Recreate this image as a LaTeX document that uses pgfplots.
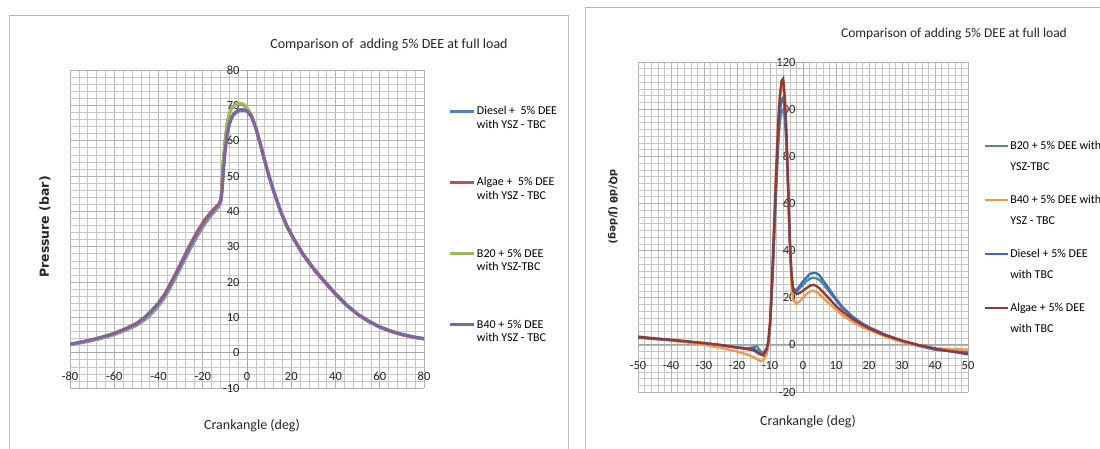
\documentclass[border=0pt]{standalone}
\usepackage{fontspec}
\setmainfont{Carlito}
\newfontfamily\dvb{DejaVu Sans Bold}
\usepackage{pgfplots}
\usepackage{pgfplotstable}
\pgfplotsset{compat=1.18}

\definecolor{pBlue}{HTML}{4F81BD}
\definecolor{pRed}{HTML}{C0504D}
\definecolor{pGreen}{HTML}{9BBB59}
\definecolor{pPurple}{HTML}{8064A2}
\definecolor{qTeal}{HTML}{4A8C9C}
\definecolor{qOrange}{HTML}{F79646}
\definecolor{qBlue}{HTML}{3C6EB4}
\definecolor{qRed}{HTML}{953735}

% ---------- Pressure data ----------
\pgfplotstableread{
x y
-80 2.2
-75 2.8
-70 3.4
-65 4.2
-60 5.1
-55 6.3
-50 7.7
-46 9.4
-43 11.1
-40 13.2
-37 15.8
-34 19.2
-30 24.0
-26 29.0
-22 33.5
-19 36.5
-16 39.0
-14 40.4
-12.5 41.6
-11.8 42.8
-11.2 46
-10.6 52
-10 56.5
-9 61.5
-8 64.5
-7 66.3
-6 67.3
-5 67.9
-4 68.3
-3 68.5
-2 68.6
-1 68.6
0 68.3
2 66.8
4 63.5
6 59.1
8 54.3
10 49.8
12 45.8
15 40.3
18 35.8
21 32.3
25 28.1
30 23.8
35 20.1
40 16.6
45 13.5
50 10.9
55 8.9
60 7.3
65 6.1
70 5.1
75 4.4
80 3.9
}\pDiesel

\pgfplotstableread{
x y
-80 2.4
-75 3.0
-70 3.7
-65 4.5
-60 5.5
-55 6.8
-50 8.3
-46 10.2
-43 12.0
-40 14.1
-37 16.8
-34 20.3
-30 25.2
-26 30.3
-22 34.8
-19 37.7
-16 40.0
-14 41.3
-12.5 42.3
-11.8 43.5
-11.3 48
-10.8 54
-10 59.5
-9 64.8
-8 67.7
-7 69.1
-6 69.8
-5 70.2
-3 70.4
-2 70.2
-1 69.8
0 69.1
2 67.1
4 63.5
6 59.0
8 54.2
10 49.7
12 45.7
15 40.2
18 35.7
21 32.2
25 28.0
30 23.7
35 20.0
40 16.5
45 13.4
50 10.8
55 8.8
60 7.2
65 6.0
70 5.1
75 4.4
80 3.9
}\pAlgae

\pgfplotstableread{
x y
-80 2.3
-75 2.9
-70 3.5
-65 4.3
-60 5.2
-55 6.4
-50 7.8
-46 9.6
-43 11.3
-40 13.4
-37 16.0
-34 19.5
-30 24.3
-26 29.3
-22 33.8
-19 36.8
-16 39.2
-14 40.6
-12.5 41.8
-11.8 43.0
-11.3 47
-10.8 53
-10 59
-9 64.5
-8 67.5
-7 69.0
-6 69.8
-5 70.3
-3 70.6
-2 70.4
-1 70.0
0 69.3
2 67.3
4 63.8
6 59.3
8 54.5
10 50.0
12 46.0
15 40.5
18 36.0
21 32.5
25 28.3
30 24.0
35 20.3
40 16.8
45 13.6
50 11.0
55 9.0
60 7.4
65 6.2
70 5.2
75 4.5
80 4.0
}\pBtwenty

\pgfplotstableread{
x y
-80 2.4
-75 3.0
-70 3.7
-65 4.5
-60 5.4
-55 6.7
-50 8.1
-46 10.0
-43 11.8
-40 13.9
-37 16.5
-34 20.0
-30 24.8
-26 29.8
-22 34.3
-19 37.3
-16 39.7
-14 41.0
-12.5 42.1
-11.8 43.2
-11.2 46.5
-10.6 52
-10 56.5
-9 61.8
-8 64.8
-7 66.6
-6 67.6
-5 68.2
-4 68.6
-3 68.8
-2 68.8
-1 68.7
0 68.4
2 67.0
4 63.6
6 59.2
8 54.4
10 49.9
12 45.9
15 40.4
18 35.9
21 32.4
25 28.2
30 23.9
35 20.2
40 16.7
45 13.5
50 10.9
55 8.9
60 7.3
65 6.1
70 5.2
75 4.5
80 4.0
}\pBforty

% ---------- Heat release data ----------
\pgfplotstableread{
x y
-50 3.2
-45 2.6
-40 2.0
-35 1.3
-30 0.6
-25 -0.2
-20 -1.2
-17 -1.5
-15 -1.0
-14 -0.5
-13 -2.5
-12 -3.5
-11 -1.5
-10.5 1.5
-10 8
-9.5 21
-9 37
-8.5 54
-8 70
-7.5 85
-7 95
-6.5 99
-6 100
-5.5 96
-5 84
-4.5 65
-4 44
-3.5 30
-3 24
-2 22.5
-1 24
0 25.5
1 27
2 28
3 28.5
4 28.2
5 27.5
6 26
8 22.5
10 19
12 15.5
15 11.8
18 8.8
20 7.3
25 4.2
30 1.6
35 -0.4
40 -2.0
45 -2.6
50 -3.0
}\qBtwenty

\pgfplotstableread{
x y
-50 3.5
-45 2.5
-40 1.8
-35 1.0
-30 0.0
-25 -1.2
-20 -2.8
-17 -4.0
-15 -5.2
-13 -6.8
-12 -6.5
-11 -4.0
-10.5 0
-10 8
-9.5 24
-9 42
-8.5 62
-8 80
-7.5 96
-7 105
-6.5 109
-6 110
-5.5 104
-5 88
-4.5 65
-4 42
-3.5 26
-3 19
-2 17.5
-1 18.5
0 20
1 21.5
2 22.5
3 23
4 22.5
5 21.5
6 20
8 17.5
10 15
12 12.5
15 9.8
18 7.5
20 6.3
25 3.5
30 1.2
35 -0.5
40 -1.5
45 -1.8
50 -2.0
}\qBforty

\pgfplotstableread{
x y
-50 3.0
-45 2.5
-40 2.0
-35 1.4
-30 0.7
-25 -0.1
-20 -1.0
-17 -1.4
-15 -1.5
-13 -3.5
-12 -4.0
-11 -1.5
-10.5 1
-10 7
-9.5 20
-9 36
-8.5 54
-8 72
-7.5 88
-7 99
-6.5 104
-6 105
-5.5 100
-5 86
-4.5 66
-4 44
-3.5 30
-3 24
-2 23
-1 25
0 27
1 28.5
2 30
3 30.5
4 30.5
5 29.5
6 27.5
8 23.5
10 19.5
12 16
15 12
18 9
20 7.5
25 4.3
30 1.8
35 -0.3
40 -2.0
45 -2.8
50 -3.5
}\qDiesel

\pgfplotstableread{
x y
-50 3.5
-45 2.8
-40 2.2
-35 1.5
-30 0.8
-25 0.0
-20 -1.2
-17 -1.8
-15 -2.3
-13 -4.0
-12 -4.5
-11 -2.0
-10.5 2
-10 10
-9.5 25
-9 42
-8.5 60
-8 78
-7.5 95
-7 106
-6.5 112
-6 113
-5.5 105
-5 90
-4.5 68
-4 45
-3.5 30
-3 23
-2 21.5
-1 22
0 23
1 24
2 25
3 25.5
4 25
5 24
6 22.5
8 19.5
10 16.5
12 14
15 11
18 8.5
20 7
25 4
30 1.8
35 0.0
40 -1.5
45 -2.8
50 -4.0
}\qAlgae

\pgfplotsset{
  excelgrid/.style={
    scale only axis,
    axis lines=middle,
    axis line style={gray!70, line width=0.8pt, -},
    grid=both,
    major grid style={gray!60, line width=0.6pt},
    minor grid style={gray!45, line width=0.5pt},
    tick style={gray!70, line width=0.6pt},
    major tick length=4pt,
    minor tick length=0pt,
    hide obscured x ticks=false,
    hide obscured y ticks=false,
    tick label style={font=\fontsize{12.5}{12.5}\selectfont, text=black!85},
    /pgf/number format/assume math mode=true,
    yticklabel style={xshift=-2pt},
  },
}

\begin{document}
\begin{tikzpicture}
\useasboundingbox (0pt,0pt) rectangle (1100pt,-448pt);
\clip (0pt,0pt) rectangle (1100pt,-448pt);
\fill[white] (0pt,0pt) rectangle (1100pt,-448pt);
\draw[gray!55, line width=1pt] (9pt,-15pt) rectangle (568pt,-470pt);
\draw[gray!55, line width=1pt] (585pt,-7pt) rectangle (1140pt,-470pt);

% ---------------- Left chart ----------------
\begin{axis}[excelgrid,
  at={(70pt,-388pt)}, anchor=south west,
  width=354pt, height=318pt,
  xmin=-80, xmax=80, ymin=-10, ymax=80,
  xtick={-80,-60,...,80}, ytick={-10,0,...,80},
  minor x tick num=4, minor y tick num=4,
  xticklabel style={yshift=-14pt},
  legend style={at={(1.07,0.89)}, anchor=north west, draw=none, fill=none,
    font=\fontsize{12}{13.5}\selectfont, row sep=46pt, inner sep=0pt,
    nodes={inner sep=1pt}, cells={align=left, anchor=west}},
  legend image code/.code={\draw[#1, line width=3pt] (0pt,6.75pt) -- (24pt,6.75pt);},
]
\addplot[pBlue, line width=3pt] table {\pDiesel};
\addlegendentry{Diesel +\ \ 5\% DEE\\with YSZ - TBC}
\addplot[pRed, line width=3pt] table {\pAlgae};
\addlegendentry{Algae +\ \ 5\% DEE\\with YSZ - TBC}
\addplot[pGreen, line width=3pt] table {\pBtwenty};
\addlegendentry{B20 + 5\% DEE\\with YSZ-TBC}
\addplot[pPurple, line width=3pt] table {\pBforty};
\addlegendentry{B40 + 5\% DEE\\with YSZ - TBC}
\end{axis}

\node[font=\fontsize{14}{14}\selectfont, text=black!85] at (389pt,-45pt) {Comparison of\ \ adding 5\% DEE at full load};
\node[font=\fontsize{14}{14}\selectfont, text=black!85] at (252pt,-426pt) {Crankangle (deg)};
\node[rotate=90, font=\dvb\fontsize{12.5}{12.5}\selectfont, text=black!85] at (45pt,-227pt) {Pressure (bar)};

% ---------------- Right chart ----------------
\begin{axis}[excelgrid,
  at={(638pt,-392pt)}, anchor=south west,
  width=330pt, height=330pt,
  xmin=-50, xmax=50, ymin=-20, ymax=120,
  xtick={-50,-40,...,50}, ytick={-20,0,...,120},
  minor x tick num=4, minor y tick num=6,
  xticklabel style={yshift=-11pt},
  legend style={at={(1.048,0.763)}, anchor=north west, draw=none, fill=none,
    font=\fontsize{12}{21}\selectfont, row sep=21pt, inner sep=0pt,
    nodes={inner sep=1pt}, cells={align=left, anchor=west}},
  legend image code/.code={\draw[#1, line width=2.3pt] (0pt,10.5pt) -- (23pt,10.5pt);},
]
\addplot[qTeal, line width=2.3pt] table {\qBtwenty};
\addlegendentry{B20 + 5\% DEE with\\YSZ-TBC}
\addplot[qOrange, line width=2.3pt] table {\qBforty};
\addlegendentry{B40 + 5\% DEE with\\YSZ - TBC}
\addplot[qBlue, line width=2.3pt] table {\qDiesel};
\addlegendentry{Diesel + 5\% DEE\\with TBC}
\addplot[qRed, line width=2.3pt] table {\qAlgae};
\addlegendentry{Algae + 5\% DEE\\with TBC}
\end{axis}

\node[font=\fontsize{13.5}{13.5}\selectfont, text=black!85] at (954pt,-34pt) {Comparison of adding 5\% DEE at full load};
\node[font=\fontsize{14}{14}\selectfont, text=black!85] at (808pt,-422pt) {Crankangle (deg)};
\node[rotate=-90, font=\dvb\fontsize{10}{10}\selectfont, text=black!85] at (613pt,-207pt) {dQ/dθ (J/deg)};
\end{tikzpicture}
\end{document}
